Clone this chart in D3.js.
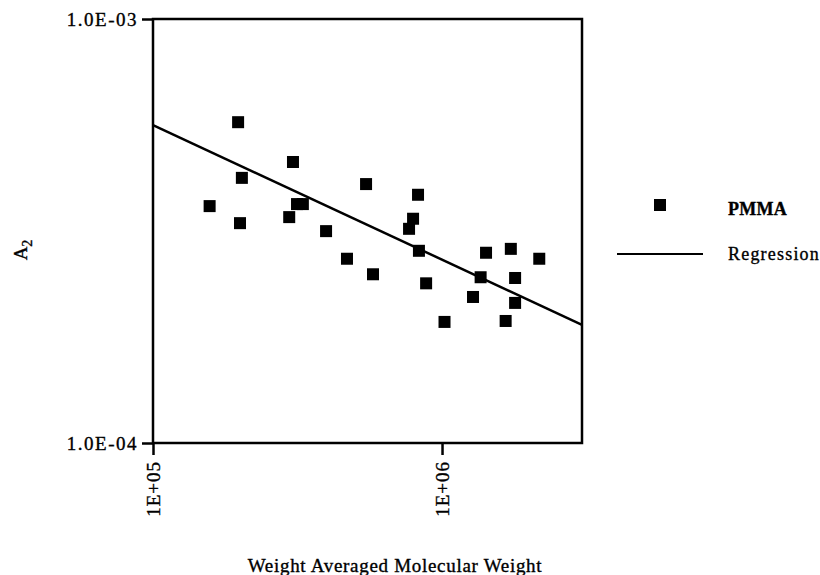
<!DOCTYPE html>
<html>
<head>
<meta charset="utf-8">
<script src="https://cdn.jsdelivr.net/npm/d3@7"></script>
<style>
  body { margin: 0; background: #fff; }
  svg text { font-family: "Liberation Serif", "Times New Roman", "DejaVu Serif", serif !important; fill: #000; stroke: #000; stroke-width: 0.35px; }
</style>
</head>
<body>
<div id="chart"></div>
<script>
// chart data
const weightX = [
  1.97e5, 3.05e5, 2.03e5, 1.57e5, 2.0e5, 2.96e5, 3.15e5, 3.30e5, 5.46e5,
  8.26e5, 7.94e5, 7.69e5, 3.97e5, 8.32e5, 4.69e5, 5.77e5, 8.81e5, 1.42e6,
  1.73e6, 2.17e6, 1.36e6, 1.79e6, 1.28e6, 1.79e6, 1.02e6, 1.66e6
];
const a2Y = [
  5.71e-4, 4.60e-4, 4.22e-4, 3.62e-4, 3.30e-4, 3.41e-4, 3.66e-4, 3.66e-4, 4.08e-4,
  3.85e-4, 3.38e-4, 3.20e-4, 3.16e-4, 2.84e-4, 2.72e-4, 2.50e-4, 2.38e-4, 2.81e-4,
  2.87e-4, 2.72e-4, 2.46e-4, 2.45e-4, 2.21e-4, 2.14e-4, 1.93e-4, 1.94e-4
];
// regression line end points
const regX = [1e5, 3.05e6];
const regY = [5.62e-4, 1.90e-4];

const xTicks = [1e5, 1e6];
const xTickLabels = ["1E+05", "1E+06"];
const yTicks = [1e-3, 1e-4];
const yTickLabels = ["1.0E-03", "1.0E-04"];
const legendLabels = ["PMMA", "Regression"];

const margin = { top: 19, right: 238, bottom: 132, left: 153 };
const W = 820, H = 575;
const width = W - margin.left - margin.right;
const height = H - margin.top - margin.bottom;

const svg = d3.select("#chart").append("svg")
  .attr("width", W).attr("height", H);
const g = svg.append("g")
  .attr("transform", `translate(${margin.left},${margin.top})`);

const x = d3.scaleLog().domain([1e5, 3.05e6]).range([0, width]);
const y = d3.scaleLog().domain([1e-4, 1e-3]).range([height, 0]);

// regression
g.append("path")
  .datum(regX.map((v, i) => [v, regY[i]]))
  .attr("fill", "none")
  .attr("stroke", "#000")
  .attr("stroke-width", 2.5)
  .attr("d", d3.line().x(d => x(d[0])).y(d => y(d[1])));

// points
const sq = 12;
g.selectAll(".pt")
  .data(weightX.map((v, i) => [v, a2Y[i]]))
  .enter().append("rect")
  .attr("class", "pt")
  .attr("x", d => x(d[0]) - sq / 2)
  .attr("y", d => y(d[1]) - sq / 2)
  .attr("width", sq).attr("height", sq)
  .attr("fill", "#000");

// frame
g.append("rect")
  .attr("width", width).attr("height", height)
  .attr("fill", "none").attr("stroke", "#000").attr("stroke-width", 2.5);

// axes (only two ticks each)
const xAxis = g.append("g")
  .attr("transform", `translate(0,${height})`)
  .call(d3.axisBottom(x).tickValues(xTicks).tickSize(12).tickSizeOuter(0)
    .tickFormat((d, i) => xTickLabels[i]));
xAxis.select(".domain").remove();
xAxis.selectAll("line").attr("stroke-width", 2.5);
xAxis.selectAll("text")
  .attr("transform", "rotate(-90)")
  .attr("x", -18).attr("y", 0).attr("dy", "0.35em")
  .style("text-anchor", "end")
  .style("font-size", "19px")
  .style("letter-spacing", "1px");

const yAxis = g.append("g")
  .call(d3.axisLeft(y).tickValues(yTicks).tickSize(11).tickSizeOuter(0)
    .tickFormat((d, i) => yTickLabels[i]));
yAxis.select(".domain").remove();
yAxis.selectAll("line").attr("stroke-width", 2.5);
yAxis.selectAll("text")
  .attr("x", -15)
  .style("font-size", "19px")
  .style("letter-spacing", "1.5px");

// axis titles
svg.append("text")
  .attr("x", 395).attr("y", 572)
  .style("text-anchor", "middle")
  .style("font-size", "19px")
  .style("letter-spacing", "0.7px")
  .text("Weight Averaged Molecular Weight");

const yl = svg.append("text")
  .attr("transform", "translate(27,250) rotate(-90)")
  .style("text-anchor", "middle")
  .style("font-size", "19px");
yl.append("tspan").text("A");
yl.append("tspan").attr("dy", 5).style("font-size", "14px").text("2");

// legend
svg.append("rect")
  .attr("x", 654).attr("y", 199).attr("width", sq).attr("height", sq)
  .attr("fill", "#000");
svg.append("text")
  .attr("x", 728).attr("y", 215)
  .style("font-size", "18px").style("font-weight", "bold")
  .style("letter-spacing", "0.3px")
  .text(legendLabels[0]);
svg.append("line")
  .attr("x1", 617).attr("x2", 703).attr("y1", 254).attr("y2", 254)
  .attr("stroke", "#000").attr("stroke-width", 2);
svg.append("text")
  .attr("x", 728).attr("y", 260)
  .style("font-size", "18px")
  .style("letter-spacing", "1.2px")
  .text(legendLabels[1]);
</script>
</body>
</html>
